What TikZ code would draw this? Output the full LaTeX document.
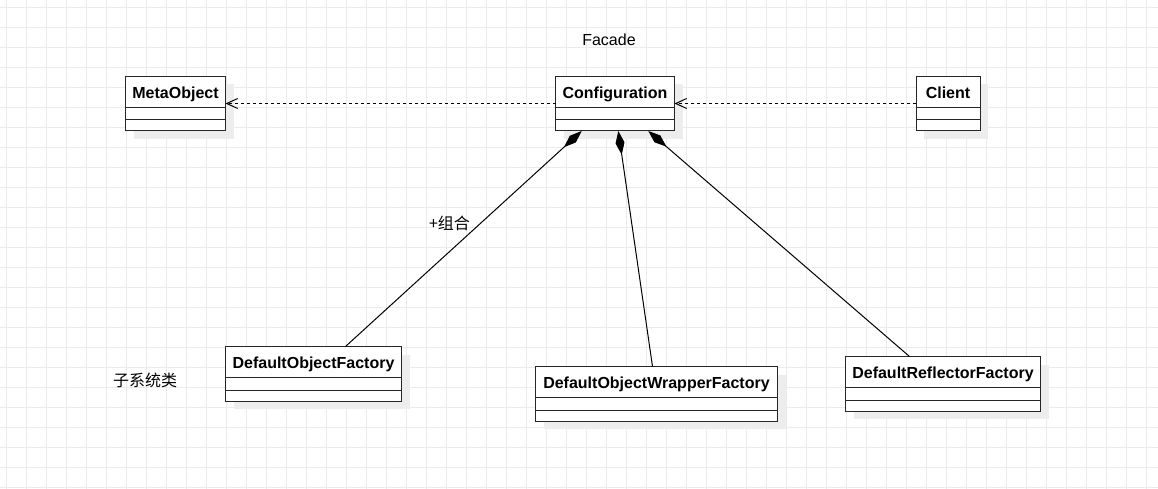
\documentclass[tikz,border=0pt]{standalone}
\usepackage{fontspec}
\setmainfont{Liberation Sans}
\newfontfamily\cjk{Noto Sans CJK SC}
\usetikzlibrary{arrows.meta, positioning, shadows}

\begin{document}
\begin{tikzpicture}[
    x=1pt, y=-1pt,
    gridline/.style={draw=black!8, line width=1pt},
    boxshadow/.style={drop shadow={shadow xshift=8pt, shadow yshift=-8pt, fill=black!7, opacity=1}},
    head/.style={rectangle, draw=black!85, fill=white, line width=1pt, outer sep=0pt, inner sep=0pt, minimum height=31pt, text height=14pt, text depth=1pt, anchor=north west, font=\fontsize{16}{19}\selectfont\bfseries, boxshadow},
    attr/.style={rectangle, draw=black!85, fill=white, line width=1pt, outer sep=0pt, inner sep=0pt, minimum height=12.5pt, boxshadow},
    ops/.style={attr, minimum height=11pt},
    dep/.style={draw, line width=1pt, dash pattern=on 3pt off 3pt, -{Straight Barb[length=11pt, width=10pt]}},
    comp/.style={draw, line width=1pt, -{Diamond[length=24pt, width=9pt]}},
    lbl/.style={font=\fontsize{16}{19}\selectfont}
]
\useasboundingbox[fill=white] (0,0) rectangle (1158,489);
\foreach \x in {6.5,26.5,...,1158} \draw[gridline] (\x,0) -- (\x,489);
\foreach \y in {7.5,27.5,...,489} \draw[gridline] (0,\y) -- (1158,\y);

\node [lbl] (facade) at (609,40) {Facade};

\node [head, minimum width=100pt] (meta) at (125.5,76.5) {MetaObject};
\node [attr, minimum width=100pt, below=0pt of meta] (metaattr) {};
\node [ops, minimum width=100pt, below=0pt of metaattr] (metaops) {};

\node [head, minimum width=119pt] (conf) at (555.5,76.5) {Configuration};
\node [attr, minimum width=119pt, below=0pt of conf] (confattr) {};
\node [ops, minimum width=119pt, below=0pt of confattr] (confops) {};

\node [head, minimum width=64pt] (client) at (916,76.5) {Client};
\node [attr, minimum width=64pt, below=0pt of client] (clientattr) {};
\node [ops, minimum width=64pt, below=0pt of clientattr] (clientops) {};

\node [head, minimum width=176pt] (dof) at (225.5,346.5) {DefaultObjectFactory};
\node [attr, minimum width=176pt, below=0pt of dof] (dofattr) {};
\node [ops, minimum width=176pt, below=0pt of dofattr] (dofops) {};

\node [head, minimum width=242pt] (dowf) at (535.5,366.5) {DefaultObjectWrapperFactory};
\node [attr, minimum width=242pt, below=0pt of dowf] (dowfattr) {};
\node [ops, minimum width=242pt, below=0pt of dowfattr] (dowfops) {};

\node [head, minimum width=195pt] (drf) at (845.5,356.5) {DefaultReflectorFactory};
\node [attr, minimum width=195pt, below=0pt of drf] (drfattr) {};
\node [ops, minimum width=195pt, below=0pt of drfattr] (drfops) {};

\path [dep] ([yshift=-11.5pt]conf.west) -- ([yshift=-11.5pt]meta.east);
\path [dep] ([yshift=-11.5pt]client.west) -- ([yshift=-11.5pt]conf.east);

\path [comp] ([xshift=32pt]dof.north) -- ([xshift=-33.3pt]confops.south);
\path [comp] ([xshift=-4pt]dowf.north) -- ([xshift=3.3pt]confops.south);
\path [comp] ([xshift=-33.5pt]drf.north) -- ([xshift=33.3pt]confops.south);

\node [lbl, font=\fontsize{16}{19}\selectfont\cjk] (combo) at (449.5,223) {+组合};
\node [lbl, font=\fontsize{16}{19}\selectfont\cjk] (subsys) at (145,380) {子系统类};
\end{tikzpicture}
\end{document}
